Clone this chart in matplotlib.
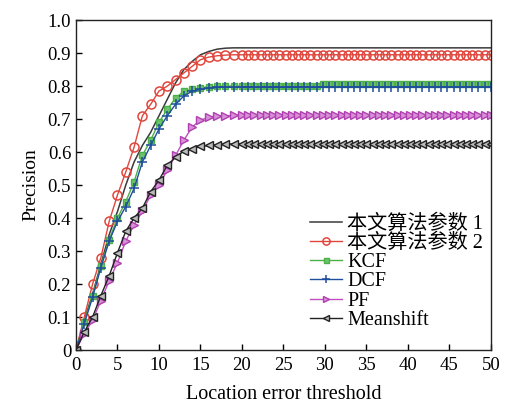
import matplotlib
matplotlib.use("Agg")
import matplotlib.pyplot as plt

plt.rcParams['font.family'] = ['Liberation Serif', 'Noto Sans CJK SC']

# thresholds: unit steps while the curves rise, finer steps on the flat part
x_rise = list(range(20))
x_flat = [20 + 0.75 * i for i in range(41)]
x = x_rise + x_flat

# precision while rising (thresholds 0..19)
ours_p1_rise = [0, 0.09, 0.17, 0.26, 0.35, 0.42, 0.50, 0.57, 0.62, 0.66,
                0.71, 0.76, 0.81, 0.85, 0.875, 0.895, 0.905, 0.912, 0.915, 0.916]
ours_p2_rise = [0, 0.10, 0.20, 0.28, 0.39, 0.47, 0.54, 0.615, 0.71, 0.745,
                0.785, 0.80, 0.82, 0.84, 0.86, 0.88, 0.888, 0.892, 0.894, 0.895]
kcf_rise = [0, 0.085, 0.165, 0.255, 0.335, 0.40, 0.45, 0.51, 0.59, 0.636,
            0.69, 0.73, 0.763, 0.785, 0.79, 0.795, 0.798, 0.799, 0.80, 0.80]
dcf_rise = [0, 0.08, 0.16, 0.25, 0.33, 0.39, 0.435, 0.49, 0.57, 0.62,
            0.67, 0.71, 0.745, 0.77, 0.785, 0.79, 0.794, 0.796, 0.797, 0.797]
pf_rise = [0, 0.05, 0.09, 0.15, 0.21, 0.265, 0.33, 0.38, 0.42, 0.47,
           0.50, 0.545, 0.59, 0.636, 0.676, 0.697, 0.705, 0.709, 0.71, 0.711]
meanshift_rise = [0, 0.055, 0.10, 0.165, 0.225, 0.295, 0.36, 0.40, 0.43, 0.48,
                  0.515, 0.56, 0.585, 0.603, 0.61, 0.617, 0.62, 0.622, 0.624, 0.625]

# plateau levels (threshold >= 20)
ours_p1_level = 0.916
ours_p2_level = 0.895
kcf_level_low = 0.80    # up to threshold ~29
kcf_level_high = 0.805
dcf_level = 0.797
pf_level = 0.711
meanshift_level = 0.625

ours_p1 = ours_p1_rise + [ours_p1_level] * len(x_flat)
ours_p2 = ours_p2_rise + [ours_p2_level] * len(x_flat)
kcf = kcf_rise + [kcf_level_low if t < 29.5 else kcf_level_high for t in x_flat]
dcf = dcf_rise + [dcf_level] * len(x_flat)
pf = pf_rise + [pf_level] * len(x_flat)
meanshift = meanshift_rise + [meanshift_level] * len(x_flat)

labels = ['本文算法参数 1', '本文算法参数 2', 'KCF', 'DCF', 'PF', 'Meanshift']
xticks = [0, 5, 10, 15, 20, 25, 30, 35, 40, 45, 50]
yticks = [0, 0.1, 0.2, 0.3, 0.4, 0.5, 0.6, 0.7, 0.8, 0.9, 1.0]
ytick_labels = ['0', '0.1', '0.2', '0.3', '0.4', '0.5', '0.6', '0.7', '0.8', '0.9', '1.0']

fig = plt.figure(figsize=(5.05, 4.03), dpi=100)
ax = fig.add_axes([0.1505, 0.1315, 0.8215, 0.8185])

ax.plot(x, ours_p1, color='#3a3a3a', lw=1.1, label=labels[0])
ax.plot(x, ours_p2, color='#e0463c', lw=1.0, marker='o', ms=6.5,
        mfc='none', mec='#e0463c', mew=1.1, label=labels[1])
ax.plot(x, kcf, color='#4daf4a', lw=1.0, marker='s', ms=4.5,
        mfc='#6cc46a', mec='#4daf4a', label=labels[2])
ax.plot(x, dcf, color='#1f4e9c', lw=1.0, marker='+', ms=7,
        mew=1.1, label=labels[3])
ax.plot(x, pf, color='#c050c0', lw=1.0, marker='>', ms=6,
        mfc='#d890d8', mec='#b040b0', label=labels[4])
ax.plot(x, meanshift, color='#222222', lw=1.0, marker='<', ms=6,
        mfc='#bbbbbb', mec='#222222', label=labels[5])

ax.set_xlim(0, 50)
ax.set_ylim(0, 1.0)
ax.set_xticks(xticks)
ax.set_yticks(yticks)
ax.set_yticklabels(ytick_labels)
ax.tick_params(direction='in', labelsize=13.5, length=4, width=1)
ax.tick_params(axis='x', pad=5)
for s in ax.spines.values():
    s.set_linewidth(1.0)
    s.set_color('#222222')

ax.set_xlabel('Location error threshold', fontsize=14.5, labelpad=8)
ax.set_ylabel('Precision', fontsize=14, labelpad=6)

leg = ax.legend(loc='lower right', bbox_to_anchor=(1.01, 0.025), frameon=False,
                fontsize=14.5, handlelength=1.6, handletextpad=0.25,
                labelspacing=0.0, borderaxespad=0.2, markerscale=0.8)

fig.savefig('out.png', dpi=100)
